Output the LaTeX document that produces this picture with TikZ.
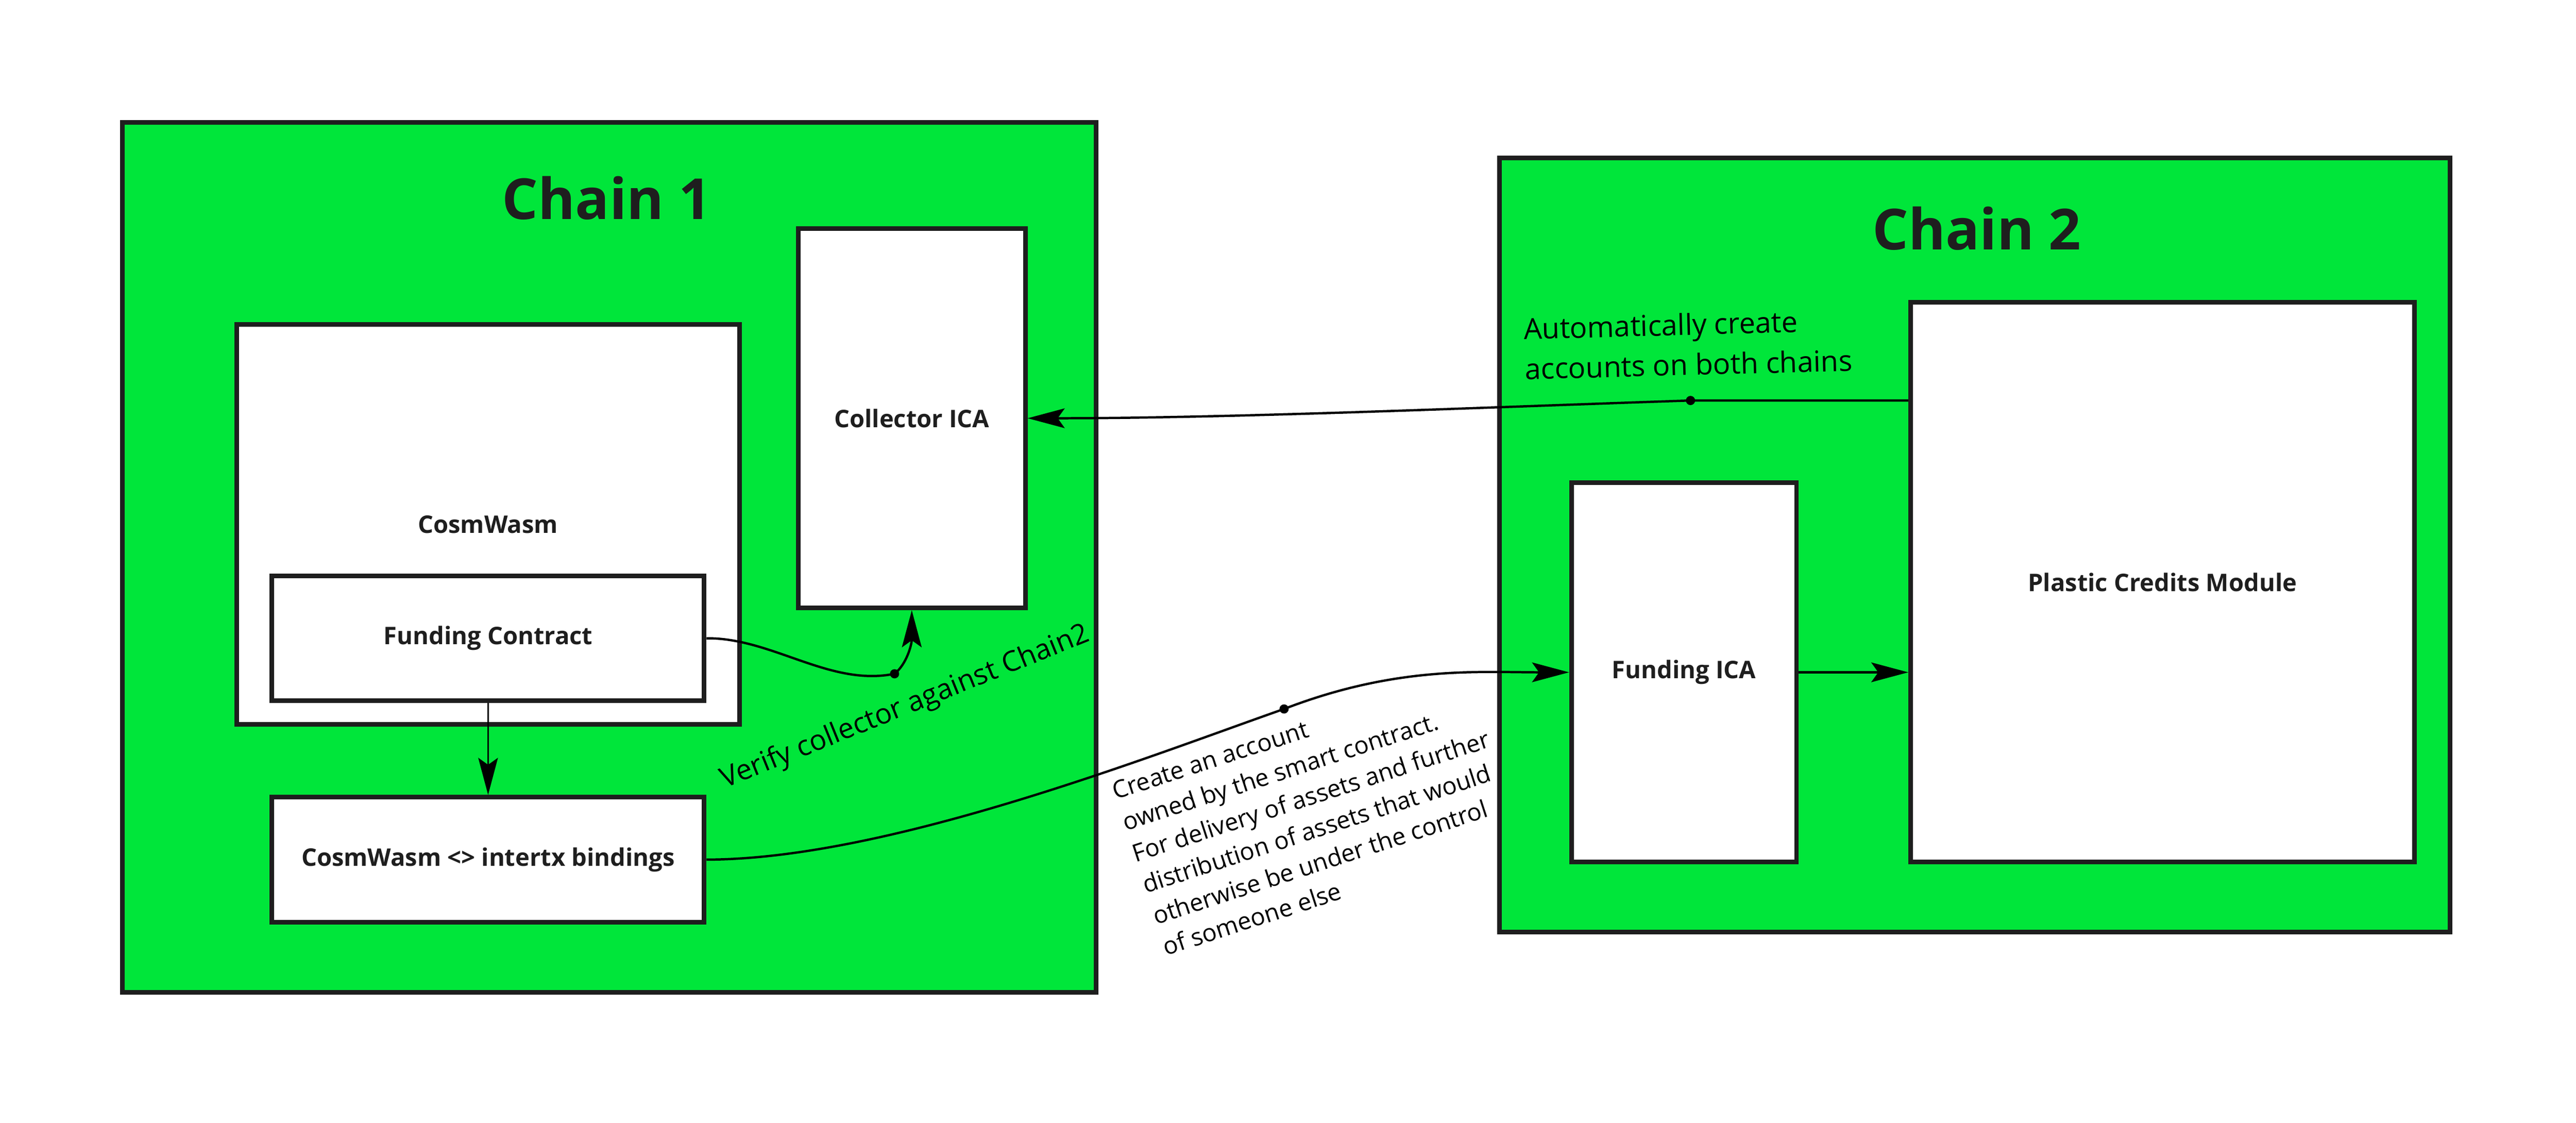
\documentclass[tikz,border=0pt]{standalone}
\usepackage{fontspec}
\setmainfont{Open Sans}
\usepackage{tikz}
\usetikzlibrary{positioning,arrows.meta}
\definecolor{chaingreen}{RGB}{0,230,58}
\definecolor{ink}{RGB}{30,30,30}
\tikzset{chainbox/.style={draw=ink,fill=chaingreen,line width=2pt,inner sep=0pt},
	 block/.style={draw=ink,fill=white,line width=2pt,inner sep=0pt,font=\bfseries\fontsize{10.5}{13}\selectfont,text=ink},
	 title/.style={font=\bfseries\fontsize{24.5}{30}\selectfont,text=ink,inner sep=0pt,anchor=base},
	 note/.style={font=\fontsize{12.5}{17.4}\selectfont,align=left,inner sep=0pt},
	 link/.style={line width=1pt,-{Stealth[length=16pt,width=8.5pt,inset=3pt]}},
	 jdot/.style={fill=black}
	 }

\begin{document}
\begin{tikzpicture}[x=0.025cm,y=-0.025cm] % Chain 1 / Chain 2 accounts
	\path[fill=white] (0,0) rectangle (1568,683.2);
	\useasboundingbox (0,0) rectangle (1568,683.2);
	\node[chainbox] (c1) at (370.9,339.2) [minimum width=14.815cm,minimum height=13.23cm] {};
	\node[chainbox] (c2) at (1202,331.6) [minimum width=14.465cm,minimum height=11.77cm] {};
	\node[title] (t1) at (369.2,133.3) {Chain 1};
	\node[title] (t2) at (1203.3,152) {Chain 2};
	\node[block] (cw) at (297,319) [minimum width=7.65cm,minimum height=6.08cm] {CosmWasm};
	\node[block] (fc) at (297.1,388.4) [minimum width=6.575cm,minimum height=1.9cm] {Funding Contract};
	\node[block] (bind) [below=39.7pt of fc] [minimum width=6.575cm,minimum height=1.9cm] {CosmWasm <> intertx bindings};
	\node[block] (col) at (555,254.5) [minimum width=3.455cm,minimum height=5.77cm] {Collector ICA};
	\node[block] (fica) at (1025,409.1) [minimum width=3.425cm,minimum height=5.77cm] {Funding ICA};
	\node[block] (pcm) at (1316.3,354.3) [minimum width=7.665cm,minimum height=8.51cm] {Plastic Credits Module};
	\coordinate (d1) at (544.5,410);
	\coordinate (d2) at (781.6,431.4);
	\coordinate (d3) at (1029,243.7);
	\draw[link,line width=0.7pt] (fc.south) to (bind.north);
	\draw[link] (fc.east) .. controls (470,388) and (505,418) .. (d1) .. controls (552,404) and (555,392) .. (col.south);
	\draw[link] (bind.east) .. controls (540,523) and (700,460) .. (d2) .. controls (850,405) and (900,409.1) .. (fica.west);
	\draw[link] (fica.east) to (fica.east -| pcm.west);
	\draw[link] (pcm.west |- d3) -- (d3) .. controls (900,248) and (750,254.5) .. (col.east);
	\fill[jdot] (d1) circle (2.8);
	\fill[jdot] (d2) circle (2.8);
	\fill[jdot] (d3) circle (2.8);
	\node[note] (n1) at (1027.5,209.5) [rotate=1.5] {Automatically create\\accounts on both chains};
	\node[note] (n2) at (551,430.5) [rotate=22,font=\fontsize{12.2}{17}\selectfont] {Verify collector against Chain2};
	\node[note] (n3) at (801,494) [rotate=18,font=\fontsize{10.5}{14.2}\selectfont] {Create an account\\owned by the smart contract.\\For delivery of assets and further\\distribution of assets that would\\otherwise be under the control\\of someone else};
\end{tikzpicture}
\end{document}
